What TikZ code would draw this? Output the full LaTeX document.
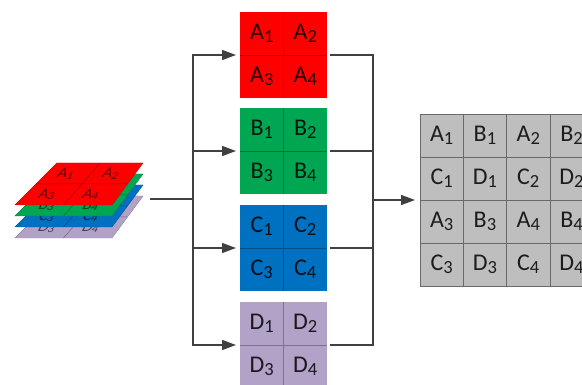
\documentclass[tikz,border=0pt]{standalone}
\usepackage{fontspec}
\setmainfont{Carlito}
\usetikzlibrary{arrows.meta,calc}
\definecolor{cR}{RGB}{255,0,0}
\definecolor{cG}{RGB}{0,166,81}
\definecolor{cB}{RGB}{0,112,192}
\definecolor{cP}{RGB}{179,162,199}
\definecolor{cGrid}{RGB}{190,190,190}
\definecolor{cGridLine}{RGB}{105,105,105}
\definecolor{cLine}{RGB}{64,64,64}
% subscripts for the big labels and for the small stacked-layer labels
\newcommand\bsub[1]{\raisebox{-2.8pt}{\fontsize{18.5}{18.5}\selectfont #1}}
\newcommand\ssub[1]{\raisebox{-1.8pt}{\fontsize{12.5}{12.5}\selectfont #1}}
\begin{document}
\begin{tikzpicture}[x=1pt,y=-1pt,
  blk/.style={rectangle, minimum width=87pt, minimum height=86pt, inner sep=0pt, outer sep=0pt},
  lbl/.style={font=\fontsize{24}{24}\selectfont, text=black, text opacity=0.85, inner sep=0pt},
  slbl/.style={font=\fontsize{17}{17}\selectfont, text=black, text opacity=0.6, xslant=0.45, yscale=0.85, inner sep=0pt},
  conn/.style={draw=cLine, line width=1.3pt},
  arr/.style={conn, -{Triangle[length=14pt,width=10pt]}, shorten >=4pt}]
\path[use as bounding box] (0,0) rectangle (582,385);
\clip (0,0) rectangle (582,385);

% stacked input layers (bottom layer first)
\foreach \L/\c/\k in {D/cP/3, C/cB/2, B/cG/1, A/cR/0} {
  \begin{scope}[shift={(0,11*\k)}]
    \filldraw[fill=\c, draw=\c!80!black, line width=0.4pt]
      (15,205) -- (112,205) -- (143,163) -- (57,163) -- cycle;
    \draw[\c!65!black, line width=0.5pt] (100,163) -- (63.5,205) (36,184) -- (127.5,184);
    \path (66,174) node[slbl] {\L\ssub{1}};
    \path (111,174) node[slbl] {\L\ssub{2}};
    \path (47,194.5) node[slbl] {\L\ssub{3}};
    \path (91,194.5) node[slbl] {\L\ssub{4}};
  \end{scope}
}
\coordinate (stk) at (150,199);

% the four separated 2x2 blocks
\foreach \n/\c/\y in {A/cR/55, B/cG/151, C/cB/248, D/cP/345} {
  \node[blk, fill=\c] (\n) at (283.5,\y) {};
  \draw[\c!70!black, line width=0.7pt] (\n.north) -- (\n.south) (\n.west) -- (\n.east);
  \node[lbl] at ($(\n.center)+(-21.75,-21.5)$) {\n\bsub{1}};
  \node[lbl] at ($(\n.center)+(21.75,-21.5)$) {\n\bsub{2}};
  \node[lbl] at ($(\n.center)+(-21.75,21.5)$) {\n\bsub{3}};
  \node[lbl] at ($(\n.center)+(21.75,21.5)$) {\n\bsub{4}};
}

% interleaved 4x4 output grid
\node[rectangle, minimum width=173.2pt, minimum height=172pt, fill=cGrid,
      draw=cGridLine, line width=0.8pt, inner sep=0pt, outer sep=0pt] (G) at (506.6,200) {};
\draw[cGridLine, line width=0.8pt]
  (463.3,114) -- (463.3,286) (506.6,114) -- (506.6,286) (549.9,114) -- (549.9,286)
  (420,157) -- (593,157) (420,200) -- (593,200) (420,243) -- (593,243);
\foreach \cc/\r/\L/\i in {0/0/A/1, 1/0/B/1, 2/0/A/2, 3/0/B/2,
                          0/1/C/1, 1/1/D/1, 2/1/C/2, 3/1/D/2,
                          0/2/A/3, 1/2/B/3, 2/2/A/4, 3/2/B/4,
                          0/3/C/3, 1/3/D/3, 2/3/C/4, 3/3/D/4}
  \node[lbl] at ({420+43.3*(\cc+0.5)},{114+43*(\r+0.5)}) {\L\bsub{\i}};

% connectors
\coordinate (split) at (193,199);
\coordinate (merge) at (373,200);
\draw[conn] (stk) -- (split);
\foreach \n in {A,B,C,D} \draw[arr] (split) |- (\n.west);
\foreach \n in {A,B,C,D} \draw[conn, shorten <=3pt] (\n.east) -| (merge);
\draw[arr, shorten >=5pt] (merge) -- (G.west);
\end{tikzpicture}
\end{document}
